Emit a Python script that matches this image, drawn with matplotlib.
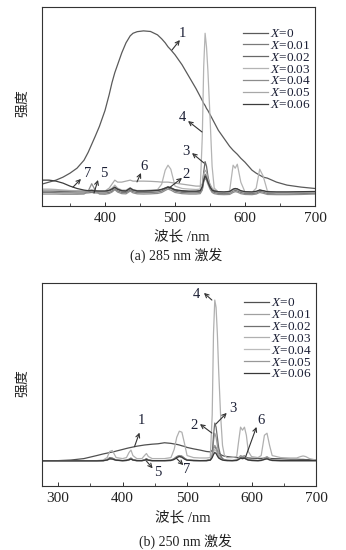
import matplotlib
matplotlib.use('Agg')
import matplotlib.pyplot as plt
from matplotlib.ticker import MultipleLocator

plt.rcParams['font.family'] = ['Liberation Serif', 'Noto Sans CJK SC']
plt.rcParams['mathtext.fontset'] = 'custom'
plt.rcParams['mathtext.rm'] = 'Liberation Serif'
plt.rcParams['mathtext.it'] = 'Liberation Serif:italic'

# 图例标签
labels = ['$X$=0', '$X$=0.01', '$X$=0.02', '$X$=0.03', '$X$=0.04', '$X$=0.05', '$X$=0.06']

# (a) 285 nm 激发 -- 波长
wl_a = [310, 320, 330, 340, 350, 360, 370, 376, 381, 386, 392, 400, 406, 410, 414, 418,
        424, 430, 436, 440, 446, 455, 465, 475, 481, 486, 490, 494, 500, 510, 520, 530,
        536, 539, 541, 543, 545, 547, 550, 553, 556, 562, 570, 578, 583, 586, 589, 594,
        600, 610, 616, 621, 626, 632, 645, 660, 680, 700]

a_x0 = [0.11, 0.12, 0.13, 0.145, 0.165, 0.19, 0.23, 0.27, 0.31, 0.35, 0.40, 0.48, 0.56, 0.62, 0.67, 0.71,
        0.77, 0.82, 0.855, 0.868, 0.876, 0.88, 0.877, 0.86, 0.84, 0.82, 0.80, 0.785, 0.76, 0.71, 0.65, 0.59,
        0.55, 0.53, 0.515, 0.505, 0.49, 0.48, 0.46, 0.44, 0.42, 0.38, 0.34, 0.30, 0.28, 0.27, 0.26, 0.24,
        0.22, 0.18, 0.165, 0.155, 0.145, 0.14, 0.12, 0.105, 0.095, 0.088]
a_x001 = [0.068, 0.068, 0.067, 0.066, 0.066, 0.065, 0.065, 0.066, 0.068, 0.066, 0.065, 0.065, 0.068, 0.074, 0.085, 0.076,
          0.068, 0.067, 0.08, 0.072, 0.067, 0.067, 0.068, 0.07, 0.075, 0.085, 0.092, 0.088, 0.075, 0.068, 0.066, 0.066,
          0.068, 0.085, 0.13, 0.16, 0.15, 0.125, 0.095, 0.075, 0.068, 0.063, 0.062, 0.064, 0.075, 0.078, 0.076, 0.068,
          0.063, 0.062, 0.065, 0.074, 0.07, 0.063, 0.062, 0.062, 0.063, 0.064]
a_x002 = [0.075, 0.075, 0.074, 0.073, 0.073, 0.072, 0.072, 0.073, 0.075, 0.073, 0.072, 0.072, 0.076, 0.082, 0.092, 0.083,
          0.075, 0.074, 0.087, 0.079, 0.074, 0.074, 0.075, 0.077, 0.082, 0.09, 0.097, 0.092, 0.08, 0.074, 0.072, 0.072,
          0.075, 0.1, 0.17, 0.223, 0.2, 0.15, 0.1, 0.08, 0.074, 0.069, 0.068, 0.07, 0.083, 0.087, 0.085, 0.075,
          0.069, 0.068, 0.071, 0.08, 0.076, 0.069, 0.068, 0.068, 0.069, 0.07]
a_x003 = [0.085, 0.085, 0.083, 0.08, 0.078, 0.077, 0.076, 0.078, 0.082, 0.078, 0.075, 0.075, 0.08, 0.09, 0.105, 0.09,
          0.08, 0.08, 0.092, 0.082, 0.078, 0.078, 0.08, 0.082, 0.11, 0.18, 0.205, 0.185, 0.10, 0.088, 0.085, 0.083,
          0.085, 0.35, 0.7, 0.868, 0.80, 0.68, 0.45, 0.2, 0.09, 0.07, 0.068, 0.075, 0.205, 0.19, 0.21, 0.12,
          0.07, 0.068, 0.09, 0.185, 0.15, 0.075, 0.066, 0.066, 0.068, 0.07]
a_x004 = [0.06, 0.06, 0.06, 0.059, 0.059, 0.059, 0.06, 0.075, 0.112, 0.08, 0.06, 0.059, 0.063, 0.07, 0.082, 0.07,
          0.062, 0.061, 0.075, 0.066, 0.061, 0.06, 0.061, 0.063, 0.068, 0.078, 0.085, 0.08, 0.068, 0.062, 0.06, 0.06,
          0.062, 0.08, 0.12, 0.14, 0.13, 0.11, 0.085, 0.068, 0.062, 0.058, 0.057, 0.058, 0.068, 0.072, 0.07, 0.062,
          0.058, 0.057, 0.06, 0.068, 0.064, 0.058, 0.057, 0.057, 0.058, 0.06]
a_x005 = [0.08, 0.08, 0.079, 0.078, 0.077, 0.076, 0.076, 0.076, 0.077, 0.076, 0.075, 0.075, 0.09, 0.11, 0.13, 0.12,
          0.12, 0.125, 0.13, 0.125, 0.125, 0.125, 0.124, 0.122, 0.12, 0.12, 0.12, 0.118, 0.115, 0.11, 0.105, 0.10,
          0.10, 0.11, 0.16, 0.18, 0.17, 0.14, 0.11, 0.09, 0.08, 0.07, 0.068, 0.068, 0.08, 0.085, 0.083, 0.075,
          0.068, 0.068, 0.07, 0.08, 0.075, 0.068, 0.065, 0.065, 0.068, 0.07]
a_x006 = [0.13, 0.13, 0.125, 0.115, 0.10, 0.088, 0.08, 0.077, 0.078, 0.076, 0.075, 0.075, 0.079, 0.086, 0.095, 0.085,
          0.077, 0.076, 0.09, 0.081, 0.076, 0.076, 0.077, 0.079, 0.084, 0.09, 0.095, 0.091, 0.082, 0.077, 0.075, 0.075,
          0.077, 0.095, 0.13, 0.15, 0.14, 0.12, 0.095, 0.08, 0.076, 0.072, 0.071, 0.073, 0.085, 0.088, 0.086, 0.077,
          0.072, 0.071, 0.074, 0.08, 0.077, 0.072, 0.071, 0.071, 0.072, 0.073]

# (b) 250 nm 激发 -- 波长
wl_b = [275, 300, 320, 340, 360, 370, 376, 380, 384, 390, 400, 406, 410, 413, 416, 422,
        430, 434, 437, 440, 446, 455, 465, 475, 480, 484, 488, 492, 496, 500, 510, 520,
        530, 536, 539, 541, 543, 545, 547, 549, 552, 555, 558, 562, 570, 577, 580, 583,
        586, 589, 592, 595, 600, 610, 615, 620, 624, 628, 632, 645, 660, 670, 676, 680,
        684, 690, 700]

b_x0 = [0.125, 0.125, 0.128, 0.135, 0.15, 0.158, 0.162, 0.165, 0.167, 0.172, 0.18, 0.185, 0.188, 0.19, 0.192, 0.196,
        0.2, 0.202, 0.203, 0.204, 0.206, 0.208, 0.213, 0.21, 0.207, 0.205, 0.202, 0.198, 0.195, 0.19, 0.183, 0.177,
        0.17, 0.168, 0.175, 0.19, 0.195, 0.185, 0.172, 0.165, 0.155, 0.15, 0.147, 0.145, 0.142, 0.14, 0.14, 0.142,
        0.143, 0.142, 0.14, 0.138, 0.137, 0.136, 0.136, 0.137, 0.138, 0.136, 0.135, 0.134, 0.132, 0.132, 0.131, 0.131,
        0.13, 0.13, 0.128]
b_x001 = [0.124, 0.124, 0.124, 0.124, 0.124, 0.125, 0.128, 0.135, 0.134, 0.127, 0.125, 0.126, 0.13, 0.134, 0.128, 0.125,
          0.125, 0.128, 0.132, 0.127, 0.125, 0.125, 0.125, 0.126, 0.132, 0.142, 0.148, 0.145, 0.135, 0.128, 0.126, 0.125,
          0.125, 0.128, 0.15, 0.22, 0.26, 0.24, 0.2, 0.16, 0.14, 0.132, 0.128, 0.126, 0.125, 0.126, 0.132, 0.138,
          0.136, 0.138, 0.133, 0.128, 0.126, 0.125, 0.126, 0.132, 0.135, 0.13, 0.126, 0.125, 0.125, 0.125, 0.125, 0.125,
          0.125, 0.125, 0.125]
b_x002 = [0.124, 0.124, 0.124, 0.124, 0.124, 0.125, 0.13, 0.14, 0.138, 0.128, 0.125, 0.127, 0.132, 0.138, 0.13, 0.126,
          0.125, 0.129, 0.135, 0.128, 0.125, 0.125, 0.125, 0.127, 0.135, 0.145, 0.15, 0.147, 0.137, 0.129, 0.126, 0.125,
          0.126, 0.13, 0.15, 0.25, 0.31, 0.29, 0.24, 0.19, 0.15, 0.135, 0.13, 0.127, 0.125, 0.127, 0.133, 0.14,
          0.138, 0.14, 0.134, 0.129, 0.126, 0.125, 0.127, 0.135, 0.14, 0.132, 0.127, 0.125, 0.125, 0.125, 0.125, 0.125,
          0.125, 0.125, 0.125]
b_x003 = [0.125, 0.125, 0.125, 0.125, 0.125, 0.128, 0.14, 0.17, 0.175, 0.14, 0.135, 0.14, 0.165, 0.177, 0.15, 0.135,
          0.135, 0.15, 0.16, 0.145, 0.135, 0.135, 0.135, 0.14, 0.18, 0.24, 0.27, 0.265, 0.21, 0.15, 0.14, 0.138,
          0.138, 0.14, 0.35, 0.75, 0.916, 0.88, 0.75, 0.57, 0.35, 0.2, 0.15, 0.14, 0.14, 0.145, 0.22, 0.29,
          0.275, 0.29, 0.25, 0.17, 0.145, 0.14, 0.15, 0.25, 0.26, 0.2, 0.15, 0.14, 0.138, 0.138, 0.145, 0.148,
          0.145, 0.135, 0.128]
b_x004 = [0.123, 0.123, 0.123, 0.123, 0.123, 0.124, 0.127, 0.133, 0.132, 0.126, 0.124, 0.125, 0.128, 0.132, 0.127, 0.124,
          0.124, 0.126, 0.13, 0.126, 0.124, 0.124, 0.124, 0.125, 0.13, 0.138, 0.143, 0.14, 0.132, 0.127, 0.125, 0.124,
          0.124, 0.127, 0.14, 0.165, 0.18, 0.172, 0.155, 0.14, 0.132, 0.128, 0.126, 0.125, 0.124, 0.125, 0.13, 0.136,
          0.134, 0.136, 0.131, 0.127, 0.125, 0.124, 0.125, 0.13, 0.133, 0.128, 0.125, 0.124, 0.124, 0.124, 0.124, 0.124,
          0.124, 0.124, 0.124]
b_x005 = [0.124, 0.124, 0.124, 0.124, 0.124, 0.125, 0.128, 0.136, 0.135, 0.127, 0.125, 0.126, 0.13, 0.135, 0.128, 0.125,
          0.125, 0.128, 0.133, 0.127, 0.125, 0.125, 0.125, 0.126, 0.133, 0.143, 0.15, 0.146, 0.135, 0.128, 0.126, 0.125,
          0.125, 0.128, 0.145, 0.18, 0.2, 0.19, 0.165, 0.145, 0.135, 0.13, 0.128, 0.126, 0.126, 0.128, 0.138, 0.15,
          0.146, 0.15, 0.14, 0.132, 0.128, 0.126, 0.128, 0.138, 0.145, 0.135, 0.128, 0.126, 0.126, 0.126, 0.126, 0.126,
          0.126, 0.126, 0.126]
b_x006 = [0.124, 0.124, 0.124, 0.124, 0.124, 0.125, 0.128, 0.134, 0.133, 0.127, 0.125, 0.126, 0.129, 0.133, 0.128, 0.125,
          0.125, 0.127, 0.131, 0.127, 0.125, 0.125, 0.125, 0.126, 0.131, 0.14, 0.146, 0.142, 0.133, 0.127, 0.125, 0.125,
          0.125, 0.127, 0.14, 0.155, 0.165, 0.16, 0.148, 0.138, 0.132, 0.128, 0.126, 0.125, 0.125, 0.126, 0.131, 0.137,
          0.135, 0.137, 0.132, 0.128, 0.126, 0.125, 0.126, 0.131, 0.134, 0.129, 0.126, 0.125, 0.125, 0.125, 0.125, 0.125,
          0.125, 0.125, 0.125]

series_a = [a_x0, a_x001, a_x002, a_x003, a_x004, a_x005, a_x006]
series_b = [b_x0, b_x001, b_x002, b_x003, b_x004, b_x005, b_x006]
colors_a = ['#5a5a5a', '#7a7a7a', '#686868', '#b4b4b4', '#8c8c8c', '#a8a8a8', '#3c3c3c']
colors_b = ['#505050', '#a0a0a0', '#707070', '#b0b0b0', '#bcbcbc', '#989898', '#383838']

# 曲线编号标注: (文字, 文字位置, 箭头尾, 箭头头)
notes_a = [('1', (510, 0.869), (495.7, 0.784), (507, 0.834)),
           ('4', (510, 0.447), (538.6, 0.372), (518.6, 0.427)),
           ('3', (515.7, 0.276), (541.4, 0.216), (524.3, 0.266)),
           ('2', (515.7, 0.156), (491.4, 0.09), (510, 0.141)),
           ('6', (455.7, 0.201), (445.7, 0.121), (451.4, 0.166)),
           ('5', (398.6, 0.161), (384.3, 0.065), (390, 0.131)),
           ('7', (375.7, 0.161), (354.3, 0.095), (365.7, 0.136))]
notes_b = [('4', (513.8, 0.941), (538.5, 0.916), (526.2, 0.951)),
           ('3', (570.8, 0.384), (544.6, 0.305), (561.5, 0.36)),
           ('2', (510.8, 0.30), (538.5, 0.261), (520, 0.305)),
           ('6', (615.4, 0.325), (590.8, 0.143), (607.7, 0.291)),
           ('1', (428.7, 0.322), (418.5, 0.194), (426.2, 0.263)),
           ('5', (454.3, 0.066), (436.4, 0.125), (446.6, 0.087)),
           ('7', (499, 0.079), (483.6, 0.136), (494.3, 0.103))]

ink = '#1c2036'

fig = plt.figure(figsize=(3.46, 5.5), dpi=100)
ax_a = fig.add_axes([42/346, 1-206/550, 273/346, 199/550])
ax_b = fig.add_axes([42/346, 1-486/550, 274/346, 203/550])


def draw(ax, wl, series, colors, notes, xlim, leg_top):
    for ys, c, lab in zip(series, colors, labels):
        ax.plot(wl, ys, color=c, lw=0.9, label=lab)
    ax.set_xlim(*xlim)
    ax.set_ylim(0, 1)
    ax.set_yticks([])
    ax.xaxis.set_major_locator(MultipleLocator(100))
    ax.xaxis.set_minor_locator(MultipleLocator(50))
    ax.tick_params(axis='x', which='major', direction='in', length=3, width=0.7,
                   labelsize=11, pad=4, colors='#333333', labelcolor='#222222')
    ax.tick_params(axis='x', which='minor', direction='in', length=2, width=0.6, colors='#333333')
    for s in ax.spines.values():
        s.set_color('#333333')
        s.set_linewidth(0.8)
    for txt, tpos, tail, head in notes:
        ax.text(tpos[0], tpos[1], txt, fontsize=10.5, color=ink, ha='center', va='center')
        ax.annotate('', xy=head, xytext=tail,
                    arrowprops=dict(arrowstyle='->', color='#333333', lw=0.8,
                                    shrinkA=0, shrinkB=0, mutation_scale=7))
    leg = ax.legend(loc='upper right', bbox_to_anchor=(0.985, leg_top), frameon=False,
                    fontsize=9.5, handlelength=1.9, handletextpad=0.15,
                    labelspacing=-0.03, borderpad=0, borderaxespad=0)
    for t in leg.get_texts():
        t.set_color(ink)


draw(ax_a, wl_a, series_a, colors_a, notes_a, (310, 700), 0.895)
draw(ax_b, wl_b, series_b, colors_b, notes_b, (275, 700), 0.93)

# 坐标轴标题和图注
fig.text(23/346, 1-103/550, '强度', rotation=90, ha='center', va='center', fontsize=10, color='#222222')
fig.text(23/346, 1-383/550, '强度', rotation=90, ha='center', va='center', fontsize=10, color='#222222')
fig.text(182/346, 1-237/550, '波长 /nm', ha='center', va='center', fontsize=10.5, color='#222222')
fig.text(183/346, 1-518/550, '波长 /nm', ha='center', va='center', fontsize=10.5, color='#222222')
fig.text(176/346, 1-255/550, '(a) 285 nm 激发', ha='center', va='center', fontsize=10, color='#222222')
fig.text(185/346, 1-541/550, '(b) 250 nm 激发', ha='center', va='center', fontsize=10, color='#222222')

fig.savefig('out.png', dpi=100)
